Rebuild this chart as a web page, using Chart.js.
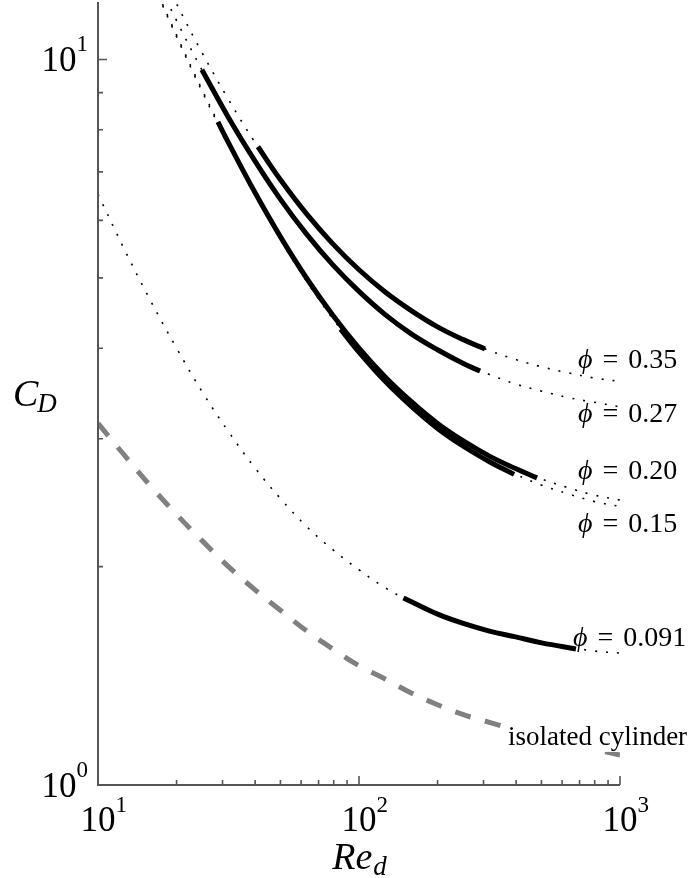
<!DOCTYPE html>
<html>
<head>
<meta charset="utf-8">
<script src="https://cdn.jsdelivr.net/npm/chart.js@4.4.1/dist/chart.umd.min.js"></script>
<style>
  html, body { margin: 0; padding: 0; background: #fff; }
  #wrap { width: 692px; height: 878px; }
</style>
</head>
<body>
<div id="wrap"><canvas id="cdChart"></canvas></div>
<script>
// malla de Reynolds para las curvas punteadas (modelo), 0.1 décadas
const reGrid = [10, 12.6, 15.8, 20, 25.1, 31.6, 39.8, 50.1, 63.1, 79.4, 100, 126, 158, 200, 251, 316, 398, 501, 631, 794, 1000];

// cilindro aislado
const cdIsolated = [3.15, 2.85, 2.59, 2.36, 2.17, 2.00, 1.86, 1.74, 1.63, 1.54, 1.46, 1.40, 1.34, 1.29, 1.25, 1.22, 1.19, 1.16, 1.14, 1.12, 1.10];

// curvas punteadas por fracción de sólidos
const cdModel035 = [20.4, 16.9, 14.19, 11.93, 10.20, 8.81, 7.70, 6.82, 6.12, 5.57, 5.13, 4.78, 4.51, 4.28, 4.11, 3.97, 3.86, 3.77, 3.70, 3.64, 3.60];
const cdModel027 = [19.5, 16.1, 13.48, 11.31, 9.65, 8.32, 7.26, 6.41, 5.74, 5.21, 4.79, 4.45, 4.19, 3.98, 3.81, 3.68, 3.57, 3.49, 3.42, 3.37, 3.32];
const cdModel020 = [19.3, 15.8, 13.06, 10.80, 9.07, 7.68, 6.57, 5.69, 4.99, 4.44, 4.00, 3.65, 3.38, 3.15, 2.98, 2.84, 2.73, 2.64, 2.57, 2.51, 2.47];
const cdModel015 = [19.2, 15.7, 13.01, 10.75, 9.02, 7.63, 6.52, 5.64, 4.94, 4.39, 3.95, 3.60, 3.33, 3.10, 2.93, 2.79, 2.68, 2.59, 2.52, 2.46, 2.42];
const cdModel091 = [6.52, 5.48, 4.67, 4.00, 3.48, 3.07, 2.74, 2.48, 2.27, 2.11, 1.98, 1.87, 1.79, 1.72, 1.67, 1.63, 1.60, 1.57, 1.55, 1.53, 1.52];

// tramos sólidos (rango simulado)
const reSolid035 = [41, 50.1, 63.1, 79.4, 100, 126, 158, 200, 251, 304];
const cdSolid035 = [7.58, 6.82, 6.12, 5.57, 5.13, 4.78, 4.51, 4.28, 4.11, 3.99];
const reSolid027 = [25, 31.6, 39.8, 50.1, 63.1, 79.4, 100, 126, 158, 200, 251, 291];
const cdSolid027 = [9.68, 8.32, 7.26, 6.41, 5.74, 5.21, 4.79, 4.45, 4.19, 3.98, 3.81, 3.72];
const reSolid020 = [28.8, 31.6, 39.8, 50.1, 63.1, 79.4, 100, 126, 158, 200, 251, 316, 398, 481];
const cdSolid020 = [8.20, 7.68, 6.57, 5.69, 4.99, 4.44, 4.00, 3.65, 3.38, 3.15, 2.98, 2.84, 2.73, 2.65];
const reSolid015 = [85, 100, 126, 158, 200, 251, 316, 393];
const cdSolid015 = [4.25, 3.95, 3.60, 3.33, 3.10, 2.93, 2.79, 2.68];
const reSolid091 = [148, 158, 200, 251, 316, 398, 501, 678];
const cdSolid091 = [1.81, 1.79, 1.72, 1.67, 1.63, 1.60, 1.57, 1.54];

// marcas de los ejes
const xMajor = [10, 100, 1000];
const xMajorExp = ['1', '2', '3'];
const xMinor = [20, 30, 40, 50, 60, 70, 80, 90, 200, 300, 400, 500, 600, 700, 800, 900];
const yMajor = [1, 10];
const yMajorExp = ['0', '1'];
const yMinor = [2, 3, 4, 5, 6, 7, 8, 9];

// etiquetas de las curvas (anclaje en datos)
const phiLabels = ['0.35', '0.27', '0.20', '0.15', '0.091'];
const phiLabelRe = [690, 690, 690, 690, 661];
const phiLabelCd = [3.86, 3.26, 2.72, 2.30, 1.60];
const isoLabel = 'isolated cylinder';
const isoLabelRe = 372;
const isoLabelCd = 1.165;

const toXY = (xs, ys) => xs.map((x, i) => ({ x: x, y: ys[i] }));

const dotted = (ys) => ({
    data: toXY(reGrid, ys),
    borderColor: '#000',
    borderWidth: 1.6,
    borderDash: [2, 9],
    borderCapStyle: 'butt',
    pointRadius: 0,
    tension: 0.4
});
const solid = (xs, ys) => ({
    data: toXY(xs, ys),
    borderColor: '#000',
    borderWidth: 5,
    borderCapStyle: 'butt',
    pointRadius: 0,
    tension: 0.4
});

const serif = '"Liberation Serif", "DejaVu Serif", serif';

// dibuja ejes, marcas hacia dentro, etiquetas y títulos
const decorPlugin = {
    id: 'decor',
    afterDatasetsDraw(chart) {
        const { ctx, chartArea: a, scales: { x, y } } = chart;
        ctx.save();
        ctx.strokeStyle = '#555';
        ctx.fillStyle = '#000';
        ctx.lineWidth = 2;
        ctx.beginPath();
        ctx.moveTo(a.left, a.top);
        ctx.lineTo(a.left, a.bottom);
        ctx.lineTo(a.right, a.bottom);
        ctx.stroke();

        ctx.lineWidth = 1.6;
        ctx.beginPath();
        xMajor.forEach(v => { const px = x.getPixelForValue(v); ctx.moveTo(px, a.bottom); ctx.lineTo(px, a.bottom - 9); });
        xMinor.forEach(v => { const px = x.getPixelForValue(v); ctx.moveTo(px, a.bottom); ctx.lineTo(px, a.bottom - 5); });
        yMajor.forEach(v => { const py = y.getPixelForValue(v); ctx.moveTo(a.left, py); ctx.lineTo(a.left + 9, py); });
        yMinor.forEach(v => { const py = y.getPixelForValue(v); ctx.moveTo(a.left, py); ctx.lineTo(a.left + 5, py); });
        ctx.stroke();

        // etiquetas de potencias de diez
        const baseFont = '35px ' + serif;
        const supFont = '23px ' + serif;
        ctx.textBaseline = 'alphabetic';
        ctx.textAlign = 'left';
        yMajor.forEach((v, i) => {
            const py = y.getPixelForValue(v);
            ctx.font = supFont;
            const w2 = ctx.measureText(yMajorExp[i]).width;
            ctx.font = baseFont;
            const w1 = ctx.measureText('10').width;
            const right = a.left - 10;
            ctx.fillText('10', right - w2 - w1, py + 12);
            ctx.font = supFont;
            ctx.fillText(yMajorExp[i], right - w2, py - 8);
        });
        xMajor.forEach((v, i) => {
            const px = x.getPixelForValue(v);
            ctx.font = baseFont;
            const w1 = ctx.measureText('10').width;
            ctx.fillText('10', px - w1 / 2, a.bottom + 46);
            ctx.font = supFont;
            ctx.fillText(xMajorExp[i], px + w1 / 2, a.bottom + 27);
        });

        // títulos de ejes
        ctx.font = 'italic 38px ' + serif;
        const wR = ctx.measureText('Re').width;
        ctx.font = 'italic 27px ' + serif;
        const wd = ctx.measureText('d').width;
        const cx = (a.left + a.right) / 2;
        ctx.font = 'italic 38px ' + serif;
        ctx.fillText('Re', cx - (wR + wd) / 2, a.bottom + 84);
        ctx.font = 'italic 27px ' + serif;
        ctx.fillText('d', cx - (wR + wd) / 2 + wR + 1, a.bottom + 90);

        const cy = (a.top + a.bottom) / 2;
        ctx.font = 'italic 38px ' + serif;
        const wC = ctx.measureText('C').width;
        ctx.fillText('C', 13, cy + 12);
        ctx.font = 'italic 27px ' + serif;
        ctx.fillText('D', 13 + wC - 1, cy + 18);

        // etiquetas phi
        phiLabels.forEach((t, i) => {
            let px = x.getPixelForValue(phiLabelRe[i]);
            const py = y.getPixelForValue(phiLabelCd[i]) + 9;
            ctx.font = 'italic 28px ' + serif;
            ctx.fillText('\u03D5', px, py);
            px += ctx.measureText('\u03D5').width + 10;
            ctx.font = '28px ' + serif;
            ctx.fillText('=', px, py);
            px += ctx.measureText('=').width + 10;
            ctx.fillText(t, px, py);
        });

        // cilindro aislado con fondo blanco
        ctx.font = '27px ' + serif;
        const ix = x.getPixelForValue(isoLabelRe);
        const iy = y.getPixelForValue(isoLabelCd);
        const wi = ctx.measureText(isoLabel).width;
        ctx.fillStyle = '#fff';
        ctx.fillRect(ix - 3, iy - 14, wi + 6, 29);
        ctx.fillStyle = '#000';
        ctx.fillText(isoLabel, ix, iy + 8);
        ctx.restore();
    }
};

new Chart(document.getElementById('cdChart'), {
    type: 'line',
    data: {
        datasets: [
            solid(reSolid035, cdSolid035),
            solid(reSolid027, cdSolid027),
            solid(reSolid020, cdSolid020),
            solid(reSolid015, cdSolid015),
            solid(reSolid091, cdSolid091),
            dotted(cdModel035),
            dotted(cdModel027),
            dotted(cdModel020),
            dotted(cdModel015),
            dotted(cdModel091),
            {
                data: toXY(reGrid, cdIsolated),
                borderColor: '#808080',
                borderWidth: 5,
                borderDash: [16, 15],
                borderCapStyle: 'butt',
                pointRadius: 0,
                tension: 0.4
            }
        ]
    },
    options: {
        responsive: true,
        maintainAspectRatio: false,
        animation: false,
        layout: { padding: { left: 98, right: 72, top: 2, bottom: 93 } },
        plugins: { legend: { display: false }, tooltip: { enabled: false } },
        scales: {
            x: { type: 'logarithmic', min: 10, max: 1000, display: false },
            y: { type: 'logarithmic', min: 1, max: 12, display: false }
        }
    },
    plugins: [decorPlugin]
});
</script>
</body>
</html>
